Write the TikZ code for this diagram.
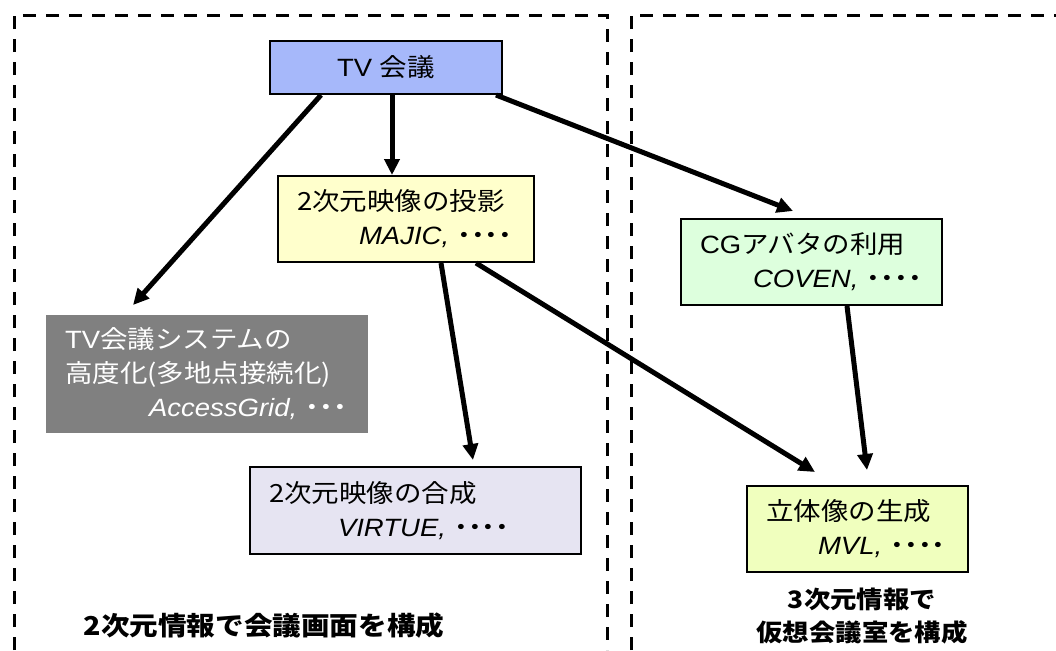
\documentclass[tikz,border=0pt]{standalone}
\usepackage{fontspec}
\setmainfont{Liberation Sans}[FakeStretch=1.1]
\newfontfamily\jpfont{Noto Sans CJK JP}[FakeStretch=1.1]
\newcommand{\jp}[1]{{\jpfont #1}}
\newcommand{\etcdots}[1]{{\jpfont\bfseries #1}}
\usetikzlibrary{arrows.meta}
\definecolor{periwinkle}{RGB}{166, 184, 250}
\definecolor{cream}{RGB}{255, 255, 204}
\definecolor{mint}{RGB}{221, 255, 221}
\definecolor{slate}{RGB}{128, 128, 128}
\definecolor{lavender}{RGB}{230, 228, 242}
\definecolor{lime}{RGB}{240, 255, 190}

\begin{document}
\begin{tikzpicture}[x=0.5pt, y=-0.5pt,
        box/.style={draw=black, line width=1pt, inner xsep=9.5pt, inner ysep=0pt, align=left,
                    font=\fontsize{12.5}{17}\selectfont},
        link/.style={line width=2.5pt, -{Triangle[length=8pt, width=7.5pt]}},
        zone/.style={line width=1.5pt, dash pattern=on 6.5pt off 5pt},
        tag/.style={font=\fontsize{12}{16.5}\selectfont\bfseries, align=center}]
            \useasboundingbox (0, 0) rectangle (1056, 650);
            \draw[zone] ( 14, 650) -- ( 14,  15) -- ( 607,  15) -- ( 607, 650);
            \draw[zone] (631, 650) -- (631,  15) -- (1056,  15);

            \node[box, fill=periwinkle, minimum width=116pt, minimum height=26.5pt, align=center] (tv)     at (386.0,  67.5)
                 {TV \jp{会議}};
            \node[box, fill=cream,    text width=109pt,   minimum height=43pt]                  (proj)   at (406.0, 219.0)
                 {\jp{2次元映像の投影}\\\hspace*{31pt}\textit{MAJIC,}~\etcdots{････}};
            \node[box, fill=mint,     text width=111.5pt, minimum height=43pt]                  (cg)     at (811.5, 262.0)
                 {CG\jp{アバタの利用}\\\hspace*{26.5pt}\textit{COVEN,}~\etcdots{････}};
            \node[box, draw=none, fill=slate, text=white, text width=142pt, minimum height=59pt] (multi)  at (207.0, 374.0)
                 {TV\jp{会議システムの}\\\jp{高度化(多地点接続化)}\\\hspace*{42pt}\textit{AccessGrid,}~\etcdots{･･･}};
            \node[box, fill=lavender, text width=146.5pt, minimum height=43.5pt]                (synth)  at (415.5, 510.5)
                 {\jp{2次元映像の合成}\\\hspace*{34.5pt}\textit{VIRTUE,}~\etcdots{････}};
            \node[box, fill=lime,     text width=91.5pt,  minimum height=43pt]                  (stereo) at (857.5, 529.0)
                 {\jp{立体像の生成}\\\hspace*{26pt}\textit{MVL,}~\etcdots{････}};

            \node[tag, font=\fontsize{13}{16.5}\selectfont\bfseries] (plane) at (264, 626)
                 {\jp{2次元情報で会議画面を構成}};
            \node[tag]                                             (solid) at (862, 616)
                 {\jp{3次元情報で}\\\jp{仮想会議室を構成}};

            \draw[link] ([xshift=3pt]tv.south)      -- ([xshift=-7pt]proj.north);
            \draw[link] ([xshift=-32.5pt]tv.south)  -- ([xshift=-37pt, yshift=4.5pt]multi.north);
            \draw[link] ([xshift=55pt]tv.south)     -- ([xshift=-9.25pt, yshift=3.5pt]cg.north);
            \draw[link] ([xshift=17.5pt]proj.south) -- ([xshift=28.75pt, yshift=3pt]synth.north);
            \draw[link] ([xshift=35pt]proj.south)   -- ([xshift=-21.25pt, yshift=6.5pt]stereo.north);
            \draw[link] ([xshift=17.75pt]cg.south)  -- ([xshift=4.75pt, yshift=7.5pt]stereo.north);
        \end{tikzpicture}
\end{document}
